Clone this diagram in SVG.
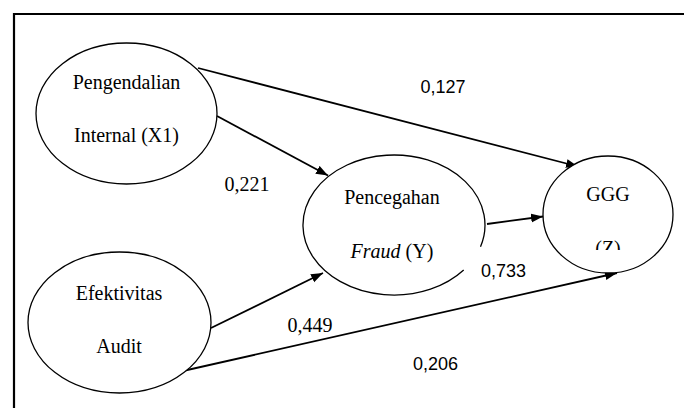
<svg xmlns="http://www.w3.org/2000/svg" width="684" height="408" viewBox="0 0 684 408">
<style>
.node{fill:#fff;stroke:#000;stroke-width:1.3}
.t{font-family:"Liberation Serif","Times New Roman",serif;font-size:20px;fill:#000;text-anchor:middle}
.n{font-family:"Liberation Serif","Times New Roman",serif;font-size:20px;fill:#000;text-anchor:middle}
.ns{font-family:"Liberation Sans",Arial,sans-serif;font-size:18px;fill:#000;text-anchor:middle}
.c{stroke:#000;stroke-width:1.8;fill:none;marker-end:url(#ah)}
</style>
<defs>
<marker id="ah" markerUnits="userSpaceOnUse" markerWidth="13" markerHeight="10" refX="12" refY="4.5" orient="auto">
<path d="M0,0 L12,4.5 L0,9 z" fill="#000"/>
</marker>
<clipPath id="zclip"><rect x="560" y="230" width="100" height="20"/></clipPath>
</defs>
<rect x="0" y="0" width="684" height="408" fill="#fff"/>
<path d="M14,420 L14,14 L700,14" fill="none" stroke="#000" stroke-width="2.2"/>
<g id="connectors">
<line class="c" x1="198" y1="68" x2="578" y2="166.5"/>
<line class="c" x1="217" y1="116" x2="328" y2="175.5"/>
<line class="c" x1="487" y1="224" x2="543" y2="216.5"/>
<line class="c" x1="211" y1="328" x2="323" y2="273"/>
<line class="c" x1="185" y1="370.5" x2="617" y2="273"/>
</g>
<g id="node-x1">
<ellipse class="node" cx="126.5" cy="113.5" rx="90.5" ry="70.5"/>
<text class="t" x="126.5" y="88.5">Pengendalian</text>
<text class="t" x="126.5" y="141.5">Internal (X1)</text>
</g>
<g id="node-y">
<path d="M463.7,270 A91,70 0 1 1 480.5,246.7" fill="#fff" stroke="#000" stroke-width="1.3"/>
<text class="t" x="392" y="204">Pencegahan</text>
<text class="t" x="392" y="258"><tspan font-style="italic">Fraud</tspan> (Y)</text>
</g>
<g id="node-z">
<ellipse class="node" cx="608" cy="214.5" rx="65" ry="58.5"/>
<text class="t" x="608" y="201">GGG</text>
<text class="t" x="608" y="254.5" clip-path="url(#zclip)">(Z)</text>
</g>
<g id="node-x2">
<ellipse class="node" cx="119.5" cy="322.5" rx="91.5" ry="70.5"/>
<text class="t" x="119" y="300">Efektivitas</text>
<text class="t" x="119" y="353">Audit</text>
</g>
<g id="labels">
<text class="ns" x="443" y="92.5">0,127</text>
<text class="n" x="247" y="190.5">0,221</text>
<text class="ns" x="503.5" y="277">0,733</text>
<text class="n" x="310" y="331.5">0,449</text>
<text class="ns" x="435.5" y="369.5">0,206</text>
</g>
</svg>
